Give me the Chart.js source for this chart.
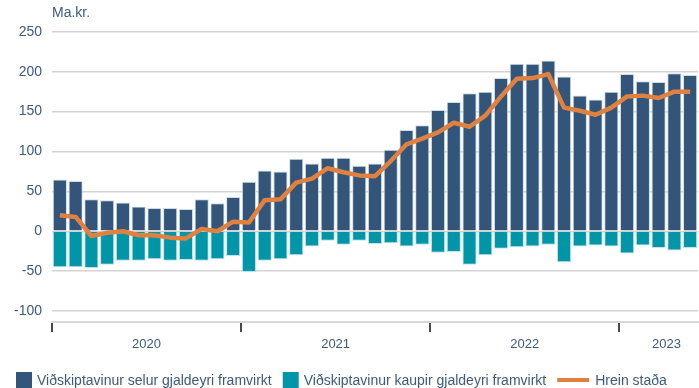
<!DOCTYPE html>
<html>
<head>
<meta charset="utf-8">
<script src="https://cdn.jsdelivr.net/npm/chart.js@4.4.0/dist/chart.umd.min.js"></script>
<style>
  html, body { margin: 0; padding: 0; background: #ffffff; }
  canvas { display: block; }
</style>
</head>
<body>
<canvas id="chart" width="699" height="388"></canvas>
<script>
// Months, January 2020 to May 2023
const months = [
  'jan 2020','feb 2020','mar 2020','apr 2020','maí 2020','jún 2020','júl 2020','ágú 2020','sep 2020','okt 2020','nóv 2020','des 2020',
  'jan 2021','feb 2021','mar 2021','apr 2021','maí 2021','jún 2021','júl 2021','ágú 2021','sep 2021','okt 2021','nóv 2021','des 2021',
  'jan 2022','feb 2022','mar 2022','apr 2022','maí 2022','jún 2022','júl 2022','ágú 2022','sep 2022','okt 2022','nóv 2022','des 2022',
  'jan 2023','feb 2023','mar 2023','apr 2023','maí 2023'
];

// Ma.kr.
const selur = [
  65, 63, 40, 39, 36, 31, 29, 29, 28, 40, 35, 43,
  62, 76, 75, 91, 85, 92, 92, 82, 85, 102, 127, 133,
  152, 162, 173, 175, 192, 210, 210, 214, 194, 170, 165, 175,
  197, 188, 187, 198, 196
];
const kaupir = [
  -45, -45, -46, -42, -37, -37, -35, -37, -36, -37, -35, -31,
  -51, -37, -35, -30, -19, -12, -17, -12, -16, -15, -19, -17,
  -27, -26, -42, -30, -22, -20, -19, -17, -39, -19, -18, -19,
  -28, -18, -21, -24, -21
];
const hreinStada = [
  20, 18, -6, -2, 0, -5, -5, -8, -9, 3, 0, 12,
  11, 39, 40, 61, 66, 79, 74, 70, 69, 88, 109, 116,
  124, 136, 131, 145, 169, 191, 192, 197, 155, 151, 146, 155,
  169, 170, 167, 175, 175
];

// Year labels sit in the middle of each year's months
const yearPositions = [5.5, 17.5, 29.5, 38.5];
const yearLabels = ['2020', '2021', '2022', '2023'];
// Indices of the first month of each year, marked with a tick
const yearStarts = [0, 12, 24, 36];
const yTicks = [-100, -50, 0, 50, 100, 150, 200, 250];

const TEXT = '#3d5a7e';
const DARK = '#33557a';
const TEAL = '#0096a8';
const ORANGE = '#e0813f';
const FONT = "'Liberation Sans', Arial, sans-serif";

Chart.defaults.font.family = FONT;
Chart.defaults.font.size = 14;
Chart.defaults.color = TEXT;

// Legend row along the bottom edge
const bottomLegend = {
  id: 'bottomLegend',
  afterDraw(chart) {
    const ctx = chart.ctx;
    const y = 380;
    const items = chart.data.datasets.map(ds => ({
      label: ds.label, color: ds.type === 'line' ? ds.borderColor : ds.backgroundColor, line: ds.type === 'line'
    }));
    ctx.save();
    ctx.font = '14px ' + FONT;
    ctx.textBaseline = 'middle';
    ctx.textAlign = 'left';
    let x = 16;
    items.forEach(it => {
      if (it.line) {
        ctx.strokeStyle = it.color;
        ctx.lineWidth = 4;
        ctx.beginPath();
        ctx.moveTo(x, y);
        ctx.lineTo(x + 32, y);
        ctx.stroke();
        x += 32 + 6;
      } else {
        ctx.fillStyle = it.color;
        ctx.fillRect(x, y - 8, 16, 16);
        x += 16 + 5;
      }
      ctx.fillStyle = TEXT;
      ctx.fillText(it.label, x, y + 1);
      x += ctx.measureText(it.label).width + 11;
    });
    ctx.restore();
  }
};

new Chart(document.getElementById('chart'), {
  data: {
    labels: months,
    datasets: [
      {
        type: 'bar',
        label: 'Viðskiptavinur selur gjaldeyri framvirkt',
        data: selur,
        backgroundColor: DARK,
        borderColor: 'rgba(205,218,228,0.95)',
        borderWidth: 1,
        barPercentage: 0.9,
        categoryPercentage: 1.0,
        stack: 'bars',
        order: 2
      },
      {
        type: 'bar',
        label: 'Viðskiptavinur kaupir gjaldeyri framvirkt',
        data: kaupir,
        backgroundColor: TEAL,
        borderColor: 'rgba(190,225,232,0.95)',
        borderWidth: 1,
        barPercentage: 0.9,
        categoryPercentage: 1.0,
        stack: 'bars',
        order: 2
      },
      {
        type: 'line',
        label: 'Hrein staða',
        data: hreinStada,
        borderColor: ORANGE,
        backgroundColor: ORANGE,
        borderWidth: 4.5,
        borderJoinStyle: 'round',
        pointRadius: 0,
        tension: 0,
        stack: 'net',
        order: 0
      }
    ]
  },
  options: {
    responsive: false,
    animation: false,
    layout: { padding: { left: 0, right: 1, top: 0, bottom: 34 } },
    plugins: {
      legend: { display: false },
      tooltip: { enabled: false },
      title: {
        display: true,
        text: 'Ma.kr.',
        align: 'start',
        fullSize: false,
        color: TEXT,
        font: { size: 14, weight: 'normal', family: FONT },
        padding: { top: 5, bottom: 10 }
      }
    },
    scales: {
      x: {
        type: 'category',
        stacked: true,
        offset: true,
        weight: 0,
        grid: {
          offset: true,
          drawOnChartArea: false,
          drawTicks: true,
          tickLength: 10,
          lineWidth: 2,
          color: ctx => yearStarts.includes(ctx.index) ? '#4a4a4a' : 'rgba(0,0,0,0)'
        },
        border: { display: true, color: '#d8d8d8', width: 2 },
        ticks: { display: false, autoSkip: false },
        afterFit: s => { s.height = 10; }
      },
      xYear: {
        type: 'linear',
        position: 'bottom',
        weight: 1,
        min: -0.5,
        max: months.length - 0.5,
        grid: { display: false },
        border: { display: false },
        afterBuildTicks: s => { s.ticks = yearPositions.map(v => ({ value: v })); },
        ticks: {
          autoSkip: false,
          maxRotation: 0,
          padding: -3,
          font: { size: 13 },
          color: TEXT,
          callback: v => yearLabels[yearPositions.indexOf(v)]
        },
        afterFit: s => { s.height = 22; }
      },
      y: {
        stacked: true,
        min: -113.75,
        max: 250,
        grid: { color: '#d3d3d3', lineWidth: 1.5, drawTicks: false },
        border: { display: false },
        afterBuildTicks: s => { s.ticks = yTicks.map(v => ({ value: v })); },
        ticks: { padding: 10, color: TEXT, font: { size: 14 } },
        afterFit: s => { s.width = 52; }
      }
    }
  },
  plugins: [bottomLegend]
});
</script>
</body>
</html>
